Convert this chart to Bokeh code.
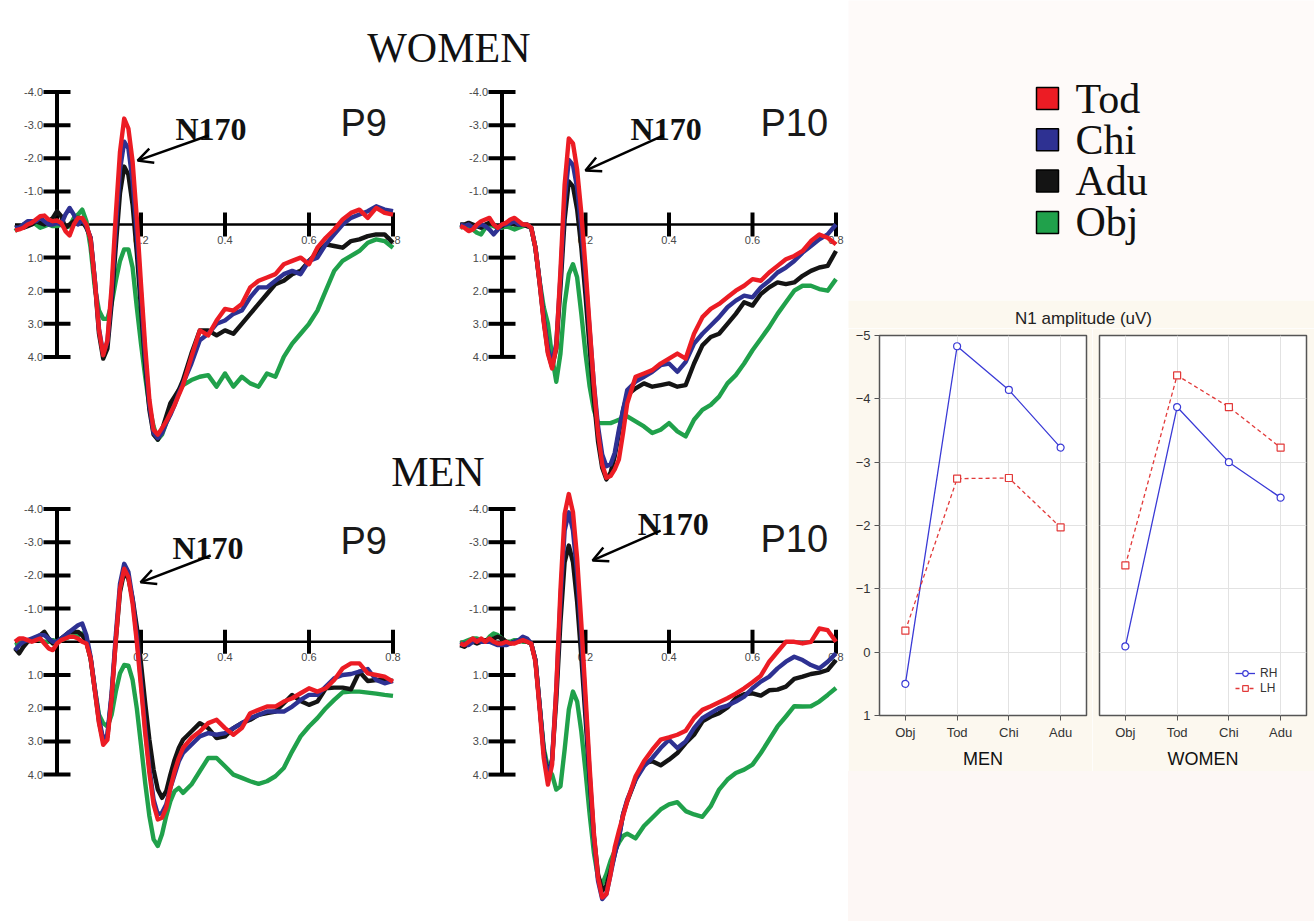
from bokeh.plotting import figure
from bokeh.models import Range1d, FactorRange, FixedTicker, Arrow, OpenHead, Legend, LegendItem, Spacer
from bokeh.layouts import row, column
from bokeh.core.properties import value
from bokeh.embed import file_html
from bokeh.resources import INLINE

# ---------------- data ----------------
TIME = [-0.10, -0.09, -0.08, -0.07, -0.06, -0.05, -0.04, -0.03, -0.02, -0.01,
        0.00, 0.01, 0.02, 0.03, 0.04, 0.05, 0.06, 0.07, 0.08, 0.09,
        0.10, 0.11, 0.12, 0.13, 0.14, 0.15, 0.16, 0.17, 0.18, 0.19,
        0.20, 0.21, 0.22, 0.23, 0.24, 0.25, 0.26, 0.27, 0.28, 0.29,
        0.30, 0.32, 0.34, 0.36, 0.38, 0.40, 0.42, 0.44, 0.46, 0.48,
        0.50, 0.52, 0.54, 0.56, 0.58, 0.60, 0.62, 0.64, 0.66, 0.68,
        0.70, 0.72, 0.74, 0.76, 0.78, 0.80]

# WOMEN, P9
W_P9_TOD = [0.18, 0.15, 0.1, 0.0, -0.05, -0.15, -0.25, -0.27, -0.15, -0.1,
            -0.12, -0.05, 0.2, 0.33, 0.0, -0.2, -0.2, 0.0, 0.45, 1.7,
            3.2, 3.95, 3.5, 1.9, -0.3, -2.2, -3.2, -2.9, -1.9, -0.2,
            1.8, 3.7, 5.3, 6.2, 6.35, 6.15, 5.95, 5.7, 5.45, 5.15,
            4.85, 4.0, 3.2, 3.35, 2.9, 2.55, 2.6, 2.4, 1.9, 1.7,
            1.6, 1.5, 1.2, 1.1, 1.0, 1.2, 0.7, 0.4, 0.15, -0.15,
            -0.35, -0.45, -0.2, -0.5, -0.35, -0.3]
W_P9_CHI = [0.1, 0.1, 0.0, -0.1, -0.1, -0.1, -0.2, -0.1, 0.0, 0.0,
            -0.05, 0.0, -0.3, -0.5, -0.3, 0.0, -0.15, 0.05, 0.4, 1.65,
            3.15, 3.9, 3.55, 2.1, 0.1, -1.65, -2.5, -2.3, -1.3, 0.3,
            2.1, 4.0, 5.45, 6.3, 6.45, 6.3, 6.0, 5.75, 5.45, 5.1,
            4.8, 4.2, 3.5, 3.3, 3.0, 2.9, 2.7, 2.6, 2.2, 1.9,
            1.9, 1.7, 1.5, 1.4, 1.5, 1.1, 1.0, 0.6, 0.3, 0.0,
            -0.2, -0.3, -0.4, -0.55, -0.45, -0.4]
W_P9_ADU = [0.1, 0.05, 0.1, 0.05, 0.0, -0.1, -0.05, 0.0, -0.1, -0.2,
            -0.4, -0.25, 0.1, 0.0, -0.1, -0.2, -0.1, 0.1, 0.4, 1.7,
            3.3, 4.05, 3.75, 2.4, 0.65, -0.95, -1.75, -1.5, -0.6, 0.85,
            2.55, 4.25, 5.6, 6.35, 6.5, 6.2, 5.8, 5.4, 5.2, 5.0,
            4.7, 3.9, 3.2, 3.2, 3.35, 3.2, 3.3, 3.0, 2.7, 2.4,
            2.1, 1.8, 1.7, 1.5, 1.4, 1.1, 0.85, 0.6, 0.65, 0.7,
            0.5, 0.45, 0.35, 0.3, 0.3, 0.55]
W_P9_OBJ = [0.2, 0.1, 0.0, 0.0, -0.1, 0.0, 0.1, 0.05, 0.0, 0.05,
            0.05, 0.0, 0.1, 0.05, -0.2, -0.3, -0.45, -0.1, 0.7, 1.9,
            2.6, 2.85, 2.85, 2.4, 1.7, 1.1, 0.75, 0.75, 1.3, 2.5,
            3.6, 4.6, 5.5, 6.1, 6.5, 6.35, 6.0, 5.7, 5.3, 5.0,
            4.85, 4.7, 4.6, 4.55, 4.9, 4.5, 4.9, 4.6, 4.8, 4.9,
            4.5, 4.6, 4.0, 3.6, 3.3, 3.0, 2.6, 2.0, 1.4, 1.1,
            0.95, 0.8, 0.55, 0.45, 0.5, 0.7]

# WOMEN, P10
W_P10_TOD = [0.05, 0.1, 0.2, 0.15, 0.0, -0.1, -0.15, -0.2, 0.0, 0.1,
             0.0, -0.05, -0.15, -0.2, -0.1, 0.0, 0.0, 0.1, 0.7, 1.75,
             2.95, 3.9, 4.35, 3.7, 1.4, -1.2, -2.6, -2.45, -1.65, -0.35,
             1.3, 3.1, 4.85, 6.3, 7.25, 7.65, 7.6, 7.4, 7.1, 6.3,
             5.4, 4.6, 4.5, 4.4, 4.2, 4.05, 3.9, 4.05, 3.3, 2.8,
             2.55, 2.4, 2.2, 2.0, 1.85, 1.65, 1.7, 1.45, 1.25, 1.05,
             0.95, 0.8, 0.5, 0.3, 0.4, 0.6]
W_P10_CHI = [0.0, 0.05, 0.0, 0.1, 0.05, 0.0, 0.05, 0.15, 0.3, 0.15,
             0.0, 0.0, -0.05, -0.1, 0.0, 0.0, 0.0, 0.1, 0.7, 1.7,
             2.85, 3.75, 4.2, 3.6, 1.6, -0.7, -1.95, -1.8, -1.1, 0.1,
             1.6, 3.2, 4.8, 6.1, 6.95, 7.3, 7.25, 6.9, 6.2, 5.6,
             5.0, 4.75, 4.6, 4.45, 4.25, 4.2, 4.45, 4.15, 3.6, 3.3,
             3.05, 2.8, 2.5, 2.3, 2.15, 2.2, 1.9, 1.7, 1.45, 1.3,
             1.1, 0.85, 0.65, 0.45, 0.3, 0.0]
W_P10_ADU = [0.0, 0.0, -0.05, 0.0, 0.05, 0.1, 0.0, -0.05, 0.0, 0.1,
             0.05, -0.05, -0.05, 0.0, 0.0, 0.0, 0.05, 0.1, 0.7, 1.75,
             2.9, 3.85, 4.3, 3.75, 1.9, -0.15, -1.3, -1.15, -0.45, 0.7,
             2.15, 3.75, 5.25, 6.55, 7.35, 7.7, 7.5, 7.0, 6.3, 5.6,
             5.15, 4.95, 4.8, 4.9, 4.85, 4.8, 4.9, 4.85, 4.2, 3.65,
             3.4, 3.3, 3.0, 2.7, 2.35, 2.45, 2.1, 1.9, 1.75, 1.8,
             1.75, 1.55, 1.4, 1.3, 1.25, 0.8]
W_P10_OBJ = [0.1, 0.05, 0.1, 0.15, 0.25, 0.3, 0.1, 0.0, 0.05, 0.1,
             0.1, 0.05, 0.1, 0.15, 0.1, 0.05, 0.0, 0.1, 0.7, 1.7,
             2.5, 3.0, 4.0, 4.75, 3.9, 2.4, 1.5, 1.2, 1.6, 2.7,
             3.9, 4.9, 5.6, 6.0, 6.0, 6.0, 6.0, 5.95, 5.9, 5.85,
             5.8, 5.95, 6.1, 6.3, 6.2, 6.0, 6.25, 6.4, 5.9, 5.6,
             5.45, 5.2, 4.8, 4.55, 4.2, 3.8, 3.45, 3.1, 2.7, 2.35,
             2.0, 1.85, 1.85, 1.95, 2.0, 1.65]

# MEN, P9
M_P9_TOD = [0.0, -0.1, -0.1, -0.05, 0.0, -0.05, -0.1, 0.05, 0.2, 0.25,
            0.05, -0.05, -0.1, -0.15, -0.15, -0.1, 0.0, 0.05, 0.5, 1.45,
            2.45, 3.1, 2.95, 1.7, -0.05, -1.6, -2.2, -1.95, -1.15, 0.0,
            1.35, 2.75, 3.95, 4.9, 5.35, 5.3, 5.0, 4.4, 3.9, 3.5,
            3.2, 2.9, 2.7, 2.45, 2.35, 2.6, 2.8, 2.6, 2.15, 2.05,
            1.95, 1.95, 1.8, 1.7, 1.55, 1.4, 1.5, 1.4, 1.15, 0.8,
            0.65, 0.65, 0.95, 1.0, 1.05, 1.2]
M_P9_CHI = [0.25, 0.1, 0.0, -0.05, -0.1, -0.15, -0.2, -0.2, -0.1, 0.0,
            0.0, -0.1, -0.2, -0.3, -0.4, -0.5, -0.55, -0.2, 0.45, 1.4,
            2.3, 2.95, 2.8, 1.55, -0.2, -1.75, -2.35, -2.1, -1.3, -0.15,
            1.2, 2.6, 3.8, 4.75, 5.2, 5.15, 4.9, 4.4, 4.0, 3.6,
            3.35, 3.1, 2.85, 2.75, 2.8, 2.75, 2.6, 2.45, 2.3, 2.2,
            2.1, 2.1, 2.1, 1.95, 1.75, 1.6, 1.6, 1.35, 1.1, 1.0,
            0.97, 0.9, 0.82, 1.15, 1.25, 1.18]
M_P9_ADU = [0.2, 0.35, 0.15, 0.0, -0.05, -0.1, -0.2, -0.3, -0.1, 0.05,
            0.0, -0.1, -0.2, -0.3, -0.3, -0.3, -0.2, 0.0, 0.5, 1.45,
            2.4, 3.0, 2.85, 1.65, -0.05, -1.5, -2.1, -1.9, -1.3, -0.45,
            0.65, 1.85, 2.95, 3.85, 4.45, 4.7, 4.5, 4.0, 3.55, 3.2,
            2.95, 2.7, 2.45, 2.6, 2.9, 2.85, 2.6, 2.45, 2.35, 2.2,
            2.15, 2.1, 1.85, 1.6, 1.78, 1.9, 1.8, 1.4, 1.38, 1.38,
            1.43, 0.9, 1.18, 1.15, 1.15, 1.18]
M_P9_OBJ = [0.1, 0.05, 0.0, -0.05, -0.05, -0.1, -0.05, 0.0, 0.0, -0.05,
            0.0, -0.05, -0.1, -0.15, -0.2, -0.2, -0.25, 0.0, 0.5, 1.4,
            2.2, 2.45, 2.55, 2.2, 1.5, 0.95, 0.7, 0.72, 1.15, 2.0,
            3.1, 4.25, 5.25, 5.95, 6.15, 5.8, 5.25, 4.8, 4.5, 4.4,
            4.55, 4.3, 3.9, 3.5, 3.5, 3.75, 4.0, 4.1, 4.2, 4.28,
            4.2, 4.05, 3.8, 3.3, 2.85, 2.55, 2.3, 2.0, 1.75, 1.52,
            1.5, 1.5, 1.53, 1.56, 1.6, 1.63]

# MEN, P10
M_P10_TOD = [0.05, 0.1, 0.0, -0.1, 0.0, -0.1, 0.0, -0.1, 0.0, 0.05,
             0.05, 0.0, 0.05, 0.05, 0.0, -0.05, 0.0, 0.05, 0.6, 2.0,
             3.5, 4.3, 3.7, 1.4, -1.55, -3.85, -4.45, -3.9, -2.5, -0.55,
             1.6, 3.8, 5.75, 7.1, 7.7, 7.6, 7.0, 6.2, 5.7, 5.25,
             4.8, 4.05, 3.6, 3.25, 2.95, 2.88, 2.8, 2.68, 2.3, 2.05,
             1.94, 1.82, 1.7, 1.56, 1.4, 1.22, 1.02, 0.6, 0.3, 0.0,
             0.0, 0.05, 0.0, -0.4, -0.35, 0.0]
M_P10_CHI = [0.1, 0.05, 0.1, 0.0, -0.05, 0.0, 0.0, 0.0, 0.05, 0.1,
             0.1, 0.1, 0.05, 0.0, -0.05, -0.15, -0.1, 0.05, 0.55, 1.9,
             3.35, 4.1, 3.55, 1.45, -1.25, -3.35, -3.9, -3.35, -2.05, -0.2,
             1.9, 4.0, 5.9, 7.2, 7.75, 7.6, 7.0, 6.4, 5.9, 5.2,
             4.75, 4.15, 3.75, 3.5, 3.2, 2.95, 3.2, 3.0, 2.6, 2.3,
             2.15, 2.0, 1.92, 1.8, 1.65, 1.4, 1.2, 1.05, 0.8, 0.6,
             0.45, 0.55, 0.7, 0.8, 0.6, 0.35]
M_P10_ADU = [0.1, 0.15, 0.05, 0.0, 0.05, 0.0, -0.05, 0.0, -0.1, -0.15,
             -0.1, 0.0, 0.05, 0.0, 0.0, -0.05, 0.0, 0.05, 0.55, 1.9,
             3.3, 4.05, 3.55, 1.75, -0.6, -2.4, -2.9, -2.4, -1.2, 0.45,
             2.3, 4.15, 5.85, 7.0, 7.5, 7.35, 6.9, 6.4, 5.9, 5.2,
             4.8, 4.15, 3.65, 3.6, 3.72, 3.55, 3.35, 3.05, 2.8, 2.4,
             2.25, 2.15, 1.98, 1.7, 1.58, 1.55, 1.62, 1.46, 1.44, 1.35,
             1.12, 1.05, 0.97, 0.93, 0.85, 0.55]
M_P10_OBJ = [0.05, 0.0, -0.05, -0.1, -0.1, -0.05, 0.0, -0.15, -0.25, -0.2,
             -0.1, 0.0, 0.0, -0.05, -0.05, 0.0, 0.0, 0.05, 0.55, 1.9,
             3.2, 3.8, 4.0, 4.45, 4.35, 3.25, 2.05, 1.5, 1.8, 2.7,
             3.9, 5.2, 6.35, 7.1, 7.3, 7.0, 6.6, 6.3, 6.05, 5.85,
             5.78, 5.92, 5.55, 5.3, 5.05, 4.9, 4.83, 5.1, 5.2, 5.27,
             4.95, 4.45, 4.15, 3.95, 3.85, 3.7, 3.35, 2.95, 2.55, 2.25,
             1.94, 1.95, 1.94, 1.8, 1.6, 1.39]

CONDITIONS = ["Tod", "Chi", "Adu", "Obj"]
COND_COLORS = ["#ec1c24", "#2e3192", "#141414", "#20a14b"]

ERP_Y_TICKS = [-4.0, -3.0, -2.0, -1.0, 1.0, 2.0, 3.0, 4.0]
ERP_Y_LABELS = ["-4.0", "-3.0", "-2.0", "-1.0", "1.0", "2.0", "3.0", "4.0"]
ERP_X_TICKS = [0.2, 0.4, 0.6, 0.8]
ERP_X_LABELS = ["0.2", "0.4", "0.6", "0.8"]

# N1 amplitude chart
N1_CATS = ["Obj", "Tod", "Chi", "Adu"]
MEN_RH = [0.50, -4.83, -4.14, -3.23]
MEN_LH = [-0.34, -2.74, -2.75, -1.97]
WOMEN_RH = [-0.09, -3.87, -3.00, -2.44]
WOMEN_LH = [-1.37, -4.37, -3.87, -3.23]
N1_TICKS = [-5, -4, -3, -2, -1, 0, 1]

# ---------------- layout geometry (page pixels) ----------------
PAGE_W, H = 1314, 921
LEFT_W = 848
RIGHT_W = PAGE_W - LEFT_W
XL0, XL_S = 56.5, 420.0
XR0, XR_S = 501.5, 417.5
YW0, YW_S = 224.0, 33.1
YM0, YM_S = 641.3, 33.2

SERIF = value("Liberation Serif")
SANS = value("Liberation Sans")
CREAM = "#fcf8ef"
PINKISH = "#fefaf9"

p = figure(width=LEFT_W, height=H, output_backend="svg", toolbar_location=None,
           x_range=Range1d(-XL0 / XL_S, (LEFT_W - XL0) / XL_S),
           y_range=Range1d((H - YW0) / YW_S, -YW0 / YW_S),
           x_axis_location=None, y_axis_location=None,
           min_border=0, outline_line_color=None,
           background_fill_color="white", border_fill_color="white")
p.grid.visible = False
p.extra_x_ranges = {"right": Range1d(-XR0 / XR_S, (LEFT_W - XR0) / XR_S)}
p.extra_y_ranges = {"men": Range1d((H - YM0) / YM_S, -YM0 / YM_S)}

PANELS = [
    ("default", "default", "P9", [W_P9_TOD, W_P9_CHI, W_P9_ADU, W_P9_OBJ],
     (0.675, -3.08), (0.282, -2.90), (0.361, -2.69, 0.192, -1.93)),
    ("right", "default", "P10", [W_P10_TOD, W_P10_CHI, W_P10_ADU, W_P10_OBJ],
     (0.619, -3.08), (0.308, -2.90), (0.387, -2.69, 0.200, -1.63)),
    ("default", "men", "P9", [M_P9_TOD, M_P9_CHI, M_P9_ADU, M_P9_OBJ],
     (0.675, -3.05), (0.275, -2.84), (0.366, -2.60, 0.199, -1.79)),
    ("right", "men", "P10", [M_P10_TOD, M_P10_CHI, M_P10_ADU, M_P10_OBJ],
     (0.619, -3.11), (0.325, -3.56), (0.380, -3.35, 0.217, -2.45)),
]

for xr, yr, name, traces, name_pos, n170_pos, arrow_pos in PANELS:
    kw = dict(x_range_name=xr, y_range_name=yr)
    p.line([TIME[0], TIME[-1]], [0, 0], line_color="black", line_width=2.5, **kw)
    p.segment(x0=[0], y0=[ERP_Y_TICKS[0]], x1=[0], y1=[ERP_Y_TICKS[-1]],
              line_color="black", line_width=4, **kw)
    p.scatter(x=[0] * len(ERP_Y_TICKS), y=ERP_Y_TICKS, marker="dash", size=27,
              line_color="black", line_width=4, **kw)
    p.scatter(x=ERP_X_TICKS, y=[0] * len(ERP_X_TICKS), marker="dash", angle=1.5708,
              size=24, line_color="black", line_width=4, **kw)
    p.text(x=[0] * len(ERP_Y_TICKS), y=ERP_Y_TICKS, text=ERP_Y_LABELS, x_offset=-14,
           text_align="right", text_baseline="middle", text_font=SANS,
           text_font_size="11px", text_color="#4a4a4a", **kw)
    p.text(x=ERP_X_TICKS, y=[0] * len(ERP_X_TICKS), text=ERP_X_LABELS, y_offset=11,
           text_align="center", text_baseline="top", text_font=SANS,
           text_font_size="11px", text_color="#4a4a4a", **kw)
    for cond, col, ys in reversed(list(zip(CONDITIONS, COND_COLORS, traces))):
        p.line(TIME, ys, line_color=col, line_width=4.4, line_join="round", **kw)
    p.text(x=[name_pos[0]], y=[name_pos[1]], text=[name], text_font=SANS,
           text_font_size="38px", text_color="#1a1a1a", text_baseline="alphabetic", **kw)
    p.text(x=[n170_pos[0]], y=[n170_pos[1]], text=["N170"], text_font=SERIF,
           text_font_style="bold", text_font_size="32px", text_color="#111111",
           text_baseline="alphabetic", **kw)
    p.add_layout(Arrow(end=OpenHead(size=15, line_width=2.5, line_color="black"),
                       x_start=arrow_pos[0], y_start=arrow_pos[1],
                       x_end=arrow_pos[2], y_end=arrow_pos[3],
                       line_width=2.5, line_color="black", **kw))

p.text(x=[0.933], y=[-5.32], text=["WOMEN"], text_font=SERIF, text_font_size="42px",
       text_align="center", text_baseline="alphabetic", text_color="#111111")
p.text(x=[0.907], y=[-5.10], text=["MEN"], text_font=SERIF, text_font_size="42px",
       text_align="center", text_baseline="alphabetic", text_color="#111111",
       y_range_name="men")

# ---------------- legend (conditions) ----------------
LG_H = 300
lg = figure(width=RIGHT_W, height=LG_H, output_backend="svg", toolbar_location=None,
            x_range=Range1d(LEFT_W, PAGE_W),
            y_range=Range1d((LG_H - 98) / 41.3, -98 / 41.3),
            x_axis_location=None, y_axis_location=None, min_border=0,
            outline_line_color=None, background_fill_color=PINKISH,
            border_fill_color=PINKISH)
lg.grid.visible = False
idx = list(range(len(CONDITIONS)))
lg.scatter(x=[1047] * len(idx), y=idx, marker="square", size=22, fill_color=COND_COLORS,
           line_color="black", line_width=1.5)
lg.text(x=[1075] * len(idx), y=idx, text=CONDITIONS, text_font=SERIF, text_font_size="42px",
        text_align="left", text_baseline="middle", text_color="#111111")

# ---------------- N1 amplitude chart ----------------
tf = figure(width=RIGHT_W, height=28, output_backend="svg", toolbar_location=None,
            x_range=Range1d(LEFT_W, PAGE_W), y_range=Range1d(328, 300),
            x_axis_location=None, y_axis_location=None, min_border=0,
            outline_line_color=None, background_fill_color=CREAM, border_fill_color=CREAM)
tf.grid.visible = False
tf.text(x=[1083], y=[318], text=["N1 amplitude (uV)"], text_font=SANS, text_font_size="17px",
        text_align="center", text_baseline="middle", text_color="#222222")

BLUE, RED = "#3a3ad6", "#e23a3a"


def n1_panel(label, rh, lh, width, left_border, right_border, show_y, with_legend):
    f = figure(width=width, height=443, output_backend="svg", toolbar_location=None,
               x_range=FactorRange(*N1_CATS), y_range=Range1d(1, -5),
               y_axis_location="left" if show_y else None,
               min_border_left=left_border, min_border_right=right_border,
               min_border_top=7, min_border_bottom=55,
               background_fill_color="white", border_fill_color=CREAM,
               outline_line_color="#555555", outline_line_width=1.5)
    f.ygrid.ticker = FixedTicker(ticks=N1_TICKS)
    f.grid.grid_line_color = "#e2e2e2"
    f.grid.grid_line_width = 1
    f.yaxis.ticker = FixedTicker(ticks=N1_TICKS)
    f.axis.axis_line_color = None
    f.axis.major_tick_out = 5
    f.axis.major_tick_in = 0
    f.axis.minor_tick_line_color = None
    f.axis.major_tick_line_color = "#555555"
    f.axis.major_label_text_font = "Liberation Sans"
    f.axis.major_label_text_font_size = "13px"
    f.axis.major_label_text_color = "#333333"
    f.axis.major_label_standoff = 4
    f.xaxis.axis_label = label
    f.xaxis.axis_label_text_font = "Liberation Sans"
    f.xaxis.axis_label_text_font_size = "18px"
    f.xaxis.axis_label_text_font_style = "normal"
    f.xaxis.axis_label_text_color = "#111111"
    f.xaxis.axis_label_standoff = 6
    l1 = f.line(N1_CATS, rh, line_color=BLUE, line_width=1.3)
    s1 = f.scatter(N1_CATS, rh, marker="circle", size=7, fill_color="white",
                   line_color=BLUE, line_width=1.2)
    l2 = f.line(N1_CATS, lh, line_color=RED, line_width=1.3, line_dash="4 3")
    s2 = f.scatter(N1_CATS, lh, marker="square", size=7, fill_color="white",
                   line_color=RED, line_width=1.2)
    if with_legend:
        leg = Legend(items=[LegendItem(label="RH", renderers=[l1, s1]),
                            LegendItem(label="LH", renderers=[l2, s2])],
                     location="bottom_right", margin=20, padding=6, spacing=1,
                     glyph_width=20, glyph_height=14, label_height=14, label_width=26,
                     label_standoff=5, border_line_color=None, background_fill_alpha=0,
                     label_text_font="Liberation Sans", label_text_font_size="12px",
                     label_text_color="#333333")
        f.add_layout(leg)
    return f


n1_men = n1_panel("MEN", MEN_RH, MEN_LH, 244, 31, 6, True, False)
n1_women = n1_panel("WOMEN", WOMEN_RH, WOMEN_LH, 222, 7, 8, False, True)

filler = Spacer(width=RIGHT_W, height=H - LG_H - 28 - 443,
                styles={"background-color": "#fdf7f5"})

layout = row(p, column(lg, tf, row(n1_men, n1_women), filler))

open("out.html", "w").write(file_html(layout, INLINE, title="N170 ERPs"))
